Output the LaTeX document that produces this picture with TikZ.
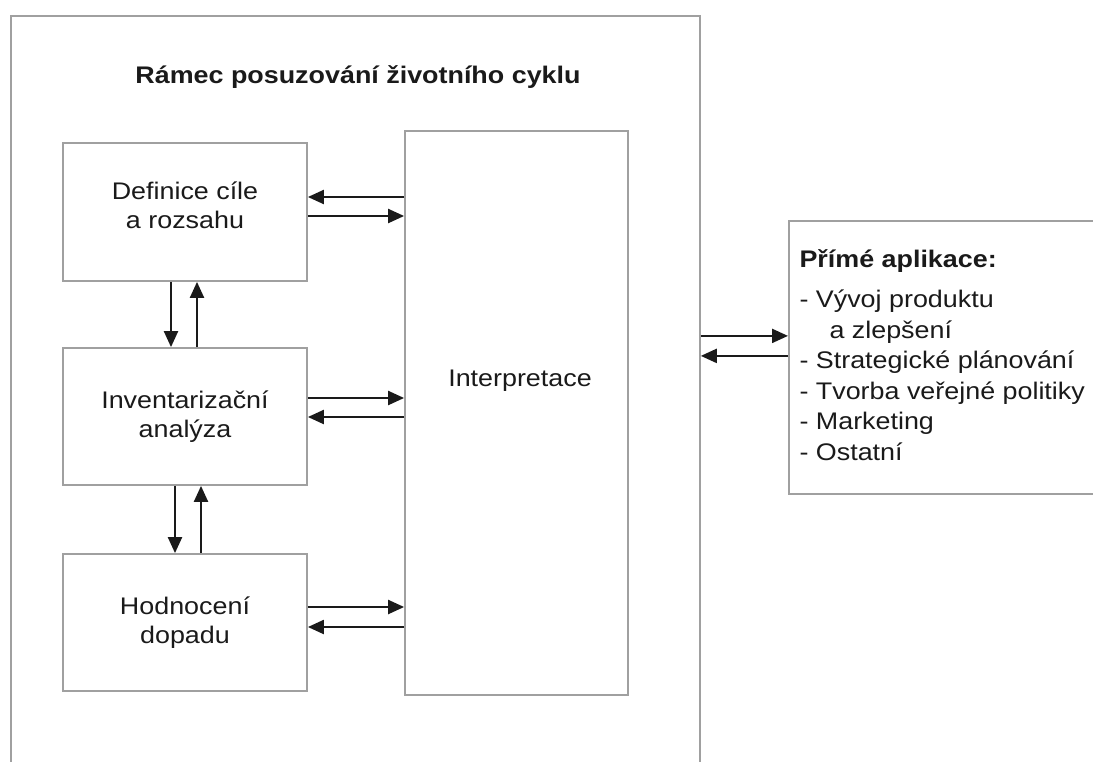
\documentclass[tikz,border=0pt]{standalone}
\usepackage{fontspec}
\setmainfont{Liberation Sans}[FakeStretch=1.12]
\usepackage{xcolor}
\usepackage{tikz}
\usetikzlibrary{arrows.meta}
\definecolor{edge}{HTML}{A0A0A0}
\definecolor{ink}{HTML}{1A1A1A}
\tikzset{
  box/.style={draw=edge, line width=1.8pt, fill=white, inner sep=0pt, align=center,
    text=ink, font=\fontsize{24}{29}\selectfont},
  arr/.style={draw=ink, line width=2.2pt, -{Triangle[length=16pt,width=14pt]}},
  lbl/.style={text=ink, font=\fontsize{24}{29}\selectfont},
  ttl/.style={text=ink, font=\bfseries\fontsize{24}{29}\selectfont}
}

\begin{document}
\begin{tikzpicture}[x=1pt,y=-1pt]
  \useasboundingbox (0,0) rectangle (1093,761);
  \clip (0,0) rectangle (1093,761);

  \node[box, anchor=north west, minimum width=689pt, minimum height=800pt] (lca) at (10,15) {};
  \node[ttl] (head) at (358,77) {Rámec posuzování životního cyklu};

  \node[box, minimum width=244pt, minimum height=138pt, text depth=14pt] (def) at (185,212) {Definice cíle\\a rozsahu};
  \node[box, minimum width=244pt, minimum height=137pt] (inv) at (185,416.5) {Inventarizační\\analýza};
  \node[box, minimum width=244pt, minimum height=137pt] (hod) at (185,622.5) {Hodnocení\\dopadu};
  \node[box, minimum width=223pt, minimum height=564pt] (int) at (516.5,413) {};
  \node[lbl] (intl) at (520,381) {Interpretace};

  \node[box, anchor=north west, minimum width=320pt, minimum height=273pt] (app) at (788,220) {};
  \node[lbl, anchor=base west, align=left, font=\fontsize{24}{30.5}\selectfont] (appl) at (796,460)
    {\textbf{Přímé aplikace:}\\[9.5pt]
     - Vývoj produktu\\
     \hspace*{30pt}a zlepšení\\
     - Strategické plánování\\
     - Tvorba veřejné politiky\\
     - Marketing\\
     - Ostatní};

  \draw[arr] ([yshift=15pt]def.east -| int.west) -- ([yshift=15pt]def.east);
  \draw[arr] ([yshift=-4pt]def.east) -- ([yshift=-4pt]def.east -| int.west);
  \draw[arr] ([yshift=18.5pt]inv.east) -- ([yshift=18.5pt]inv.east -| int.west);
  \draw[arr] ([yshift=-0.5pt]inv.east -| int.west) -- ([yshift=-0.5pt]inv.east);
  \draw[arr] ([yshift=15.5pt]hod.east) -- ([yshift=15.5pt]hod.east -| int.west);
  \draw[arr] ([yshift=-4.5pt]hod.east -| int.west) -- ([yshift=-4.5pt]hod.east);

  \draw[arr] ([xshift=-14pt]def.south) -- ([xshift=-14pt]def.south |- inv.north);
  \draw[arr] ([xshift=12pt]inv.north) -- ([xshift=12pt]inv.north |- def.south);
  \draw[arr] ([xshift=-10pt]inv.south) -- ([xshift=-10pt]inv.south |- hod.north);
  \draw[arr] ([xshift=16pt]hod.north) -- ([xshift=16pt]hod.north |- inv.south);

  \draw[arr] ([yshift=21.5pt]app.west -| lca.east) -- ([yshift=21.5pt]app.west);
  \draw[arr] ([yshift=1.5pt]app.west) -- ([yshift=1.5pt]app.west -| lca.east);
\end{tikzpicture}
\end{document}
